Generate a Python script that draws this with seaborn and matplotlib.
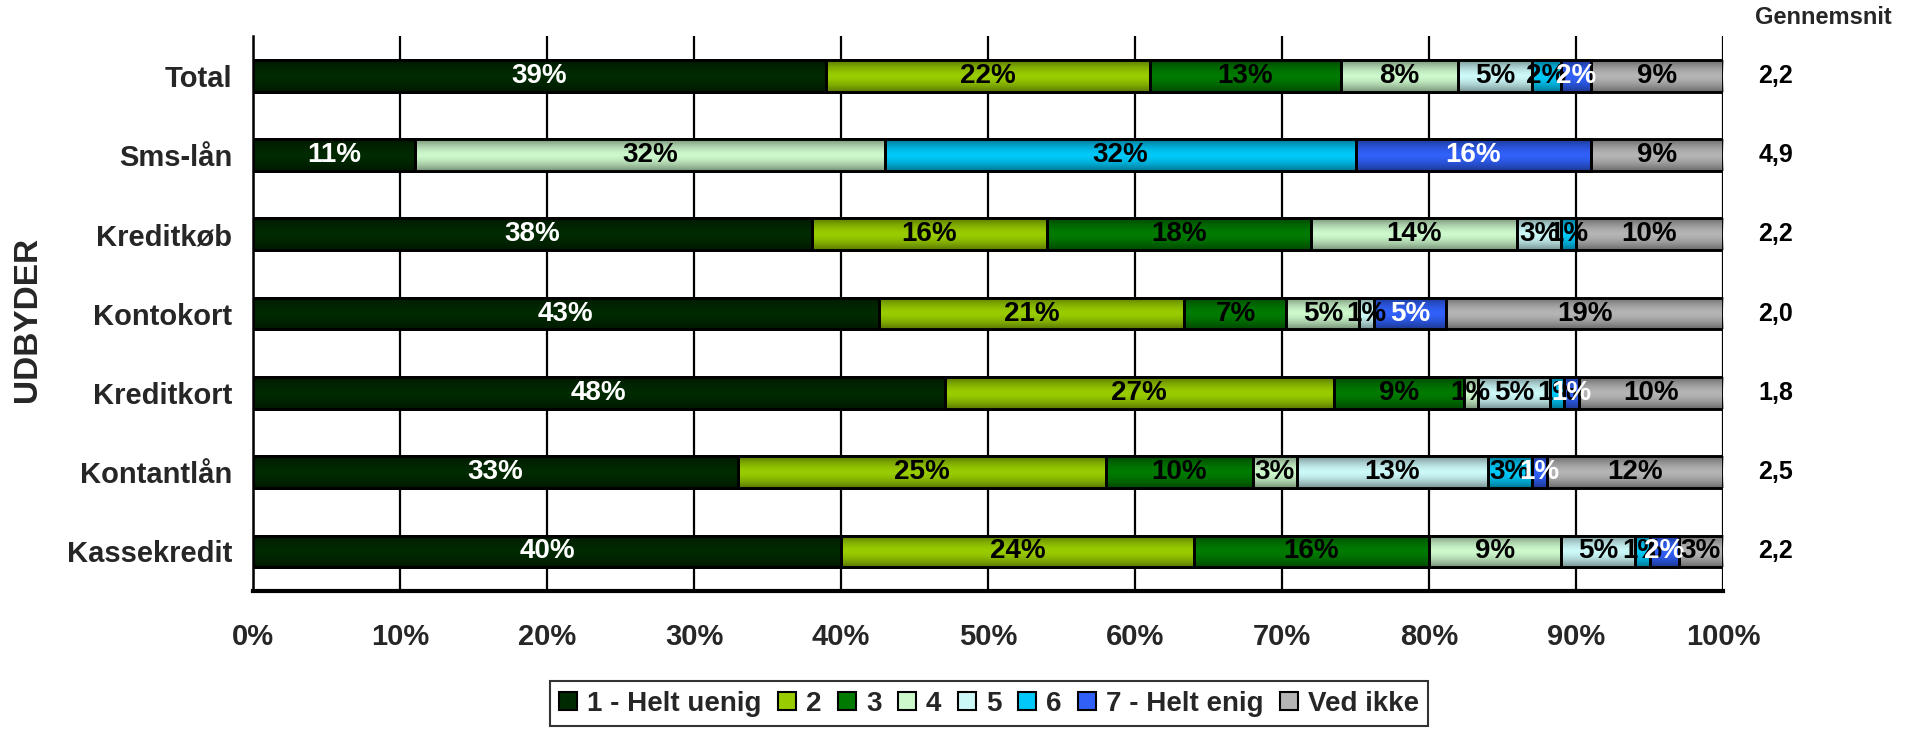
import numpy as np
import pandas as pd
import matplotlib
matplotlib.use("Agg")
import matplotlib.pyplot as plt
import seaborn as sns
from matplotlib.patches import Patch
from matplotlib import font_manager as fm

# ---------------- data ----------------
categories = ["Total", "Sms-lån", "Kreditkøb", "Kontokort", "Kreditkort", "Kontantlån", "Kassekredit"]
series_names = ["1 - Helt uenig", "2", "3", "4", "5", "6", "7 - Helt enig", "Ved ikke"]
s1 = [39, 11, 38, 43, 48, 33, 40]
s2 = [22, 0, 16, 21, 27, 25, 24]
s3 = [13, 0, 18, 7, 9, 10, 16]
s4 = [8, 32, 14, 5, 1, 3, 9]
s5 = [5, 0, 3, 1, 5, 13, 5]
s6 = [2, 32, 1, 0, 1, 3, 1]
s7 = [2, 16, 0, 5, 1, 1, 2]
s8 = [9, 9, 10, 19, 10, 12, 3]
averages = ["2,2", "4,9", "2,2", "2,0", "1,8", "2,5", "2,2"]
x_ticks = [0, 10, 20, 30, 40, 50, 60, 70, 80, 90, 100]

colors = ["#002a00", "#99cc00", "#007a00", "#ccf8cc", "#ccf8f8", "#00c8f8", "#3060f8", "#b4b4b4"]
label_colors = ["white", "black", "black", "black", "black", "black", "white", "black"]

# ---------------- fonts ----------------
sns.set_style("white")
names = {f.name for f in fm.fontManager.ttflist}
base = "Liberation Sans" if "Liberation Sans" in names else "DejaVu Sans"
narrow = "Liberation Sans Narrow" if "Liberation Sans Narrow" in names else base
plt.rcParams["font.family"] = [base, "DejaVu Sans"]
plt.rcParams["font.weight"] = "bold"

# ---------------- build table ----------------
vals = np.array([s1, s2, s3, s4, s5, s6, s7, s8], dtype=float)  # series x cats
pct = vals / vals.sum(axis=0) * 100.0  # 100% stacked (normalized like Excel)
cum = np.cumsum(pct, axis=0)

fig = plt.figure(figsize=(19.26, 7.32), dpi=100)
ax = fig.add_axes([253 / 1926, 1 - 591 / 732, (1723 - 253) / 1926, (591 - 36) / 732])

# vertical gridlines
for t in x_ticks:
    ax.axvline(t, color="black", lw=1.6, zorder=0)

bar_w = 0.40
for k in range(len(series_names) - 1, -1, -1):
    df = pd.DataFrame({"cat": categories, "val": cum[k]})
    sns.barplot(data=df, x="val", y="cat", orient="h", color=colors[k], saturation=1,
                width=bar_w, edgecolor="black", linewidth=1.8, errorbar=None, ax=ax, zorder=2)

# shading gradient overlay (3D-like bands)
n = 64
t = np.linspace(0, 1, n)
alpha = 0.42 * np.abs(2 * t - 1) ** 1.6
grad = np.zeros((n, 1, 4))
grad[:, 0, 3] = alpha
for i in range(len(categories)):
    ax.imshow(grad, extent=[0, 100, i - bar_w / 2, i + bar_w / 2], aspect="auto",
              zorder=3, interpolation="bilinear")

# redraw bar edges above the gradient
for k in range(len(series_names)):
    for i in range(len(categories)):
        left = cum[k, i] - pct[k, i]
        if pct[k, i] > 0:
            ax.add_patch(plt.Rectangle((left, i - bar_w / 2), pct[k, i], bar_w, fill=False,
                                       edgecolor="black", lw=1.8, zorder=4))

# data labels
for k in range(len(series_names)):
    for i in range(len(categories)):
        v = vals[k, i]
        if v > 0:
            cx = cum[k, i] - pct[k, i] / 2
            ax.text(cx, i, f"{int(v)}%", ha="center", va="center", fontsize=20,
                    fontweight="bold", color=label_colors[k], zorder=5)

# averages column
for i, a in enumerate(averages):
    ax.text(102.4, i, a, ha="left", va="center", fontsize=18, fontweight="bold",
            color="black", clip_on=False)
fig.text(1823 / 1926, 1 - 18 / 732, "Gennemsnit", ha="center", va="center",
         fontsize=17, fontweight="bold")

ax.set_xlim(0, 100)
ax.set_ylim(len(categories) - 0.5, -0.5)
ax.set_xticks(x_ticks)
ax.set_xticklabels([f"{v}%" for v in x_ticks], fontsize=21, fontweight="bold", family=narrow)
ax.set_yticks(range(len(categories)))
ax.set_yticklabels(categories, fontsize=21, fontweight="bold")
ax.set_yticks(np.arange(-0.5, len(categories), 1.0), minor=True)
ax.tick_params(axis="y", which="major", length=0, pad=15)
ax.tick_params(axis="y", which="minor", length=10, width=1.6, direction="out", color="black")
ax.tick_params(axis="x", which="major", length=9, width=1.6, direction="out", color="black", pad=14)
ax.set_xlabel("")
ax.set_ylabel("")

for side in ["top", "right"]:
    ax.spines[side].set_visible(False)
ax.spines["left"].set_color("black")
ax.spines["left"].set_linewidth(1.8)
ax.spines["bottom"].set_color("black")
ax.spines["bottom"].set_linewidth(3)
ax.spines["bottom"].set_zorder(6)

fig.text(27 / 1926, 1 - 319 / 732, "UDBYDER", rotation=90, ha="center", va="center",
         fontsize=24, fontweight="bold")

handles = [Patch(facecolor=c, edgecolor="black", linewidth=1.5) for c in colors]
leg = fig.legend(handles, series_names, loc="upper center", bbox_to_anchor=(989 / 1926, 1 - 681 / 732),
                 ncol=8, frameon=True, fancybox=False, edgecolor="black",
                 prop={"family": narrow, "weight": "bold", "size": 20},
                 handlelength=0.65, handleheight=0.65, handletextpad=0.35, columnspacing=0.6,
                 borderpad=0.35, borderaxespad=0)
leg.get_frame().set_linewidth(1.5)

fig.savefig("out.png", dpi=100)
